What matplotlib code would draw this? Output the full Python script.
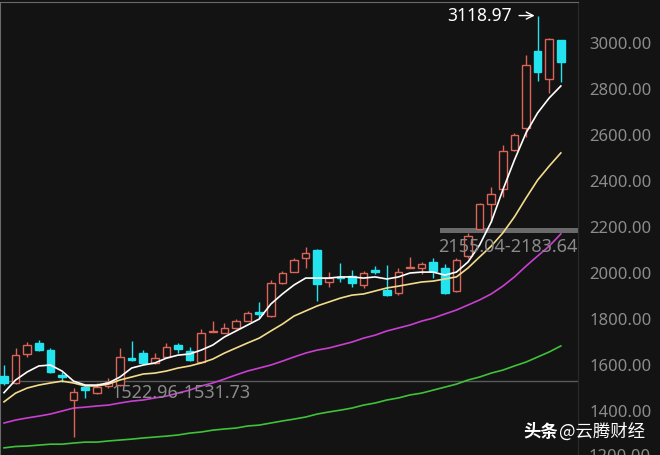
import matplotlib
matplotlib.use("Agg")
import matplotlib.pyplot as plt
from matplotlib.patches import Rectangle

plt.rcParams['font.family'] = ['Noto Sans', 'Noto Sans CJK SC', 'DejaVu Sans']

# daily candles
opens = [1552, 1522, 1648, 1696, 1665, 1557, 1448, 1504, 1478, 1509,
         1513, 1630, 1652, 1609, 1635, 1687, 1661, 1613, 1743, 1739,
         1761, 1791, 1830, 1813, 1957, 2004, 2065, 2100, 1961, 1983,
         1987, 1948, 2013, 1926, 1913, 2022, 2022, 2048, 2022, 1922,
         2074, 2191, 2300, 2365, 2535, 2630, 2965, 2843, 3013]
highs = [1600, 1674, 1700, 1709, 1674, 1570, 1500, 1509, 1522, 1543,
         1674, 1704, 1665, 1652, 1696, 1696, 1678, 1757, 1791, 1783,
         1800, 1835, 1874, 1970, 2009, 2065, 2113, 2104, 2004, 2043,
         2013, 2009, 2030, 2035, 2022, 2070, 2048, 2065, 2039, 2065,
         2174, 2304, 2374, 2557, 2609, 2948, 3118.97, 3022, 3013]
lows = [1513, 1518, 1635, 1661, 1565, 1526, 1287, 1457, 1474, 1500,
        1509, 1617, 1604, 1604, 1630, 1652, 1617, 1609, 1743, 1739,
        1757, 1791, 1804, 1809, 1952, 2004, 2022, 1878, 1939, 1961,
        1939, 1935, 1996, 1900, 1904, 2022, 1996, 1978, 1909, 1917,
        2065, 2187, 2222, 2330, 2530, 2591, 2835, 2783, 2830]
closes = [1522, 1643, 1687, 1665, 1570, 1548, 1483, 1491, 1504, 1526,
          1635, 1622, 1609, 1630, 1678, 1670, 1622, 1739, 1748, 1761,
          1791, 1826, 1822, 1957, 2000, 2057, 2087, 1952, 1978, 1978,
          1957, 2000, 2004, 1904, 2004, 2026, 2039, 2009, 1913, 2057,
          2161, 2300, 2343, 2530, 2600, 2904, 2874, 3017, 2917]

# moving averages as drawn
ma5 = [1480, 1535, 1570, 1596, 1600, 1574, 1530, 1513, 1513, 1522,
       1548, 1587, 1600, 1609, 1630, 1643, 1648, 1665, 1687, 1722,
       1748, 1774, 1800, 1865, 1909, 1948, 1978, 1978, 1978, 1983,
       1983, 1978, 1983, 1974, 1983, 2000, 2004, 2004, 1991, 2004,
       2048, 2122, 2222, 2361, 2491, 2609, 2696, 2761, 2813]
ma10 = [1440, 1478, 1500, 1513, 1522, 1530, 1522, 1509, 1509, 1517,
        1535, 1548, 1561, 1565, 1574, 1587, 1596, 1609, 1626, 1652,
        1674, 1696, 1717, 1748, 1778, 1813, 1835, 1857, 1874, 1891,
        1904, 1909, 1922, 1935, 1943, 1952, 1961, 1965, 1974, 1983,
        2022, 2070, 2117, 2174, 2244, 2326, 2404, 2465, 2522]
ma20 = [1348, 1361, 1370, 1378, 1387, 1400, 1413, 1417, 1422, 1426,
        1435, 1443, 1448, 1457, 1465, 1478, 1491, 1509, 1522, 1539,
        1557, 1574, 1587, 1600, 1617, 1635, 1652, 1665, 1674, 1687,
        1700, 1717, 1730, 1748, 1761, 1774, 1791, 1804, 1822, 1839,
        1861, 1883, 1909, 1943, 1983, 2030, 2074, 2117, 2170]
ma60 = [1240, 1246, 1248, 1252, 1256, 1256, 1261, 1265, 1265, 1270,
        1274, 1278, 1283, 1287, 1291, 1296, 1304, 1309, 1317, 1322,
        1326, 1335, 1339, 1348, 1357, 1365, 1374, 1387, 1396, 1404,
        1413, 1426, 1435, 1448, 1457, 1470, 1478, 1491, 1504, 1517,
        1535, 1548, 1565, 1578, 1596, 1613, 1635, 1657, 1683]

yticks = [1400, 1600, 1800, 2000, 2200, 2400, 2600, 2800, 3000]
cut_tick = 1200
peak = 3118.97
gap_low = (1522.96, 1531.73)
gap_high = (2155.04, 2183.64)

bg = '#131313'
up_col = '#dc6458'
down_col = '#22e3ee'
label_col = '#8c8c8c'

fig = plt.figure(figsize=(6.6, 4.55), dpi=100, facecolor=bg)
ax = fig.add_axes([0, 0, 578 / 660, 453 / 455], facecolor=bg)

w = 0.66
for i in range(len(opens)):
    o, h, l, c = opens[i], highs[i], lows[i], closes[i]
    top, bot = max(o, c), min(o, c)
    if c >= o:
        ax.vlines(i, top, h, color=up_col, lw=1, zorder=3)
        ax.vlines(i, l, bot, color=up_col, lw=1, zorder=3)
        ax.add_patch(Rectangle((i - w / 2, bot), w, top - bot, facecolor=bg,
                               edgecolor=up_col, lw=1, zorder=4))
    else:
        ax.vlines(i, l, h, color=down_col, lw=1, zorder=3)
        ax.add_patch(Rectangle((i - w / 2, bot), w, top - bot, facecolor=down_col,
                               edgecolor=down_col, lw=1, zorder=4))

x = range(len(opens))
ax.plot(x, ma60, color='#3fc23a', lw=1.2, zorder=2)
ax.plot(x, ma20, color='#c93fd0', lw=1.2, zorder=2)
ax.plot(x, ma10, color='#f3dc8c', lw=1.2, zorder=5)
ax.plot(x, ma5, color='white', lw=1.2, zorder=5)

# gap markers
ax.axhline(gap_low[1], color='#5a5a5a', lw=1, zorder=1)
ax.text(9.3, gap_low[0] - 45, '%.2f-%.2f' % gap_low, color='#8a8a8a',
        fontsize=13, ha='left', va='center', zorder=6)
ax.axhspan(2174, 2196, xmin=440 / 578, xmax=1, color='#6a6a6a', lw=0, zorder=1)
ax.text(49.45, gap_high[0] - 42, '%.2f-%.2f' % gap_high, color='#8a8a8a',
        fontsize=13, ha='right', va='center', zorder=6)

ax.annotate('%.2f' % peak, xy=(45.75, peak), xytext=(43.8, peak),
            color='white', fontsize=12.5, ha='right', va='center',
            arrowprops=dict(arrowstyle='->', color='white', lw=1,
                            shrinkA=3, shrinkB=0))

ax.set_xlim(-0.345, 49.48)
ax.set_ylim(1209, 3178)
ax.set_xticks([])
ax.yaxis.tick_right()
ax.set_yticks(yticks)
ax.set_yticklabels(['%.2f' % v for v in yticks])
ax.tick_params(axis='y', length=0, pad=8, colors=label_col, labelsize=12)
# the lowest label sits below the plot edge and is cut by the frame
ax.text(1 + 11 / 578, cut_tick, '%.2f' % cut_tick, transform=ax.get_yaxis_transform(),
        color=label_col, fontsize=12, va='center', ha='left', clip_on=False)

for s in ['top', 'left']:
    ax.spines[s].set_color('#6a6a6a')
ax.spines['right'].set_color('#2a2a2a')
ax.spines['bottom'].set_visible(False)

fig.text(523 / 660, 1 - 432 / 455, '头条', color='white', fontsize=12.5,
         fontweight='bold', family=['Noto Sans CJK SC'], va='center')
fig.text(559 / 660, 1 - 432 / 455, '@云腾财经', color='white', fontsize=12.5,
         family=['Noto Sans CJK SC'], va='center')

fig.savefig('out.png', dpi=100, facecolor=bg)
